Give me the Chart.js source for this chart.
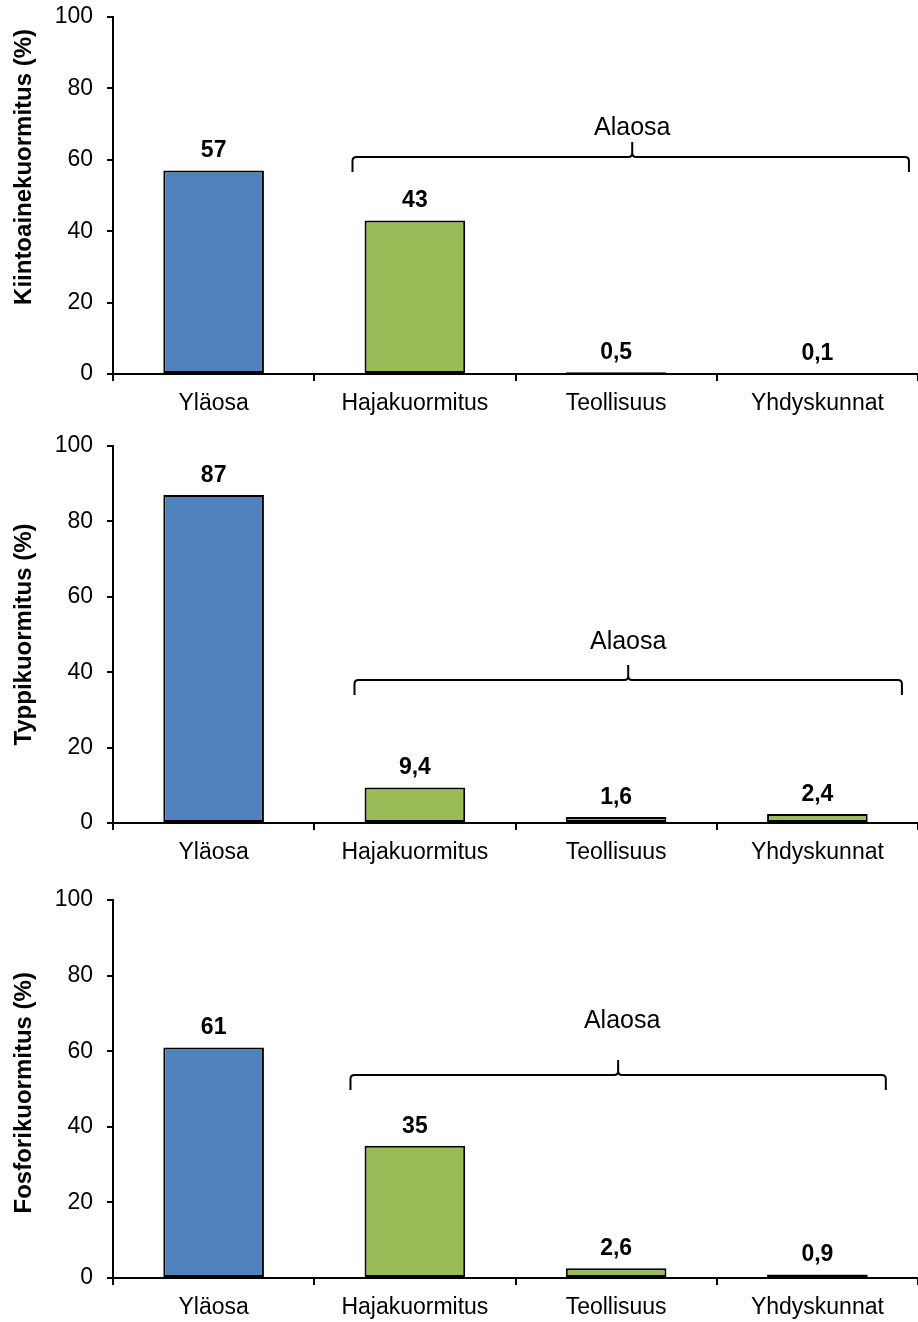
<!DOCTYPE html>
<html lang="fi">
<head>
<meta charset="utf-8">
<title>Kuormitus</title>
<script src="https://cdn.jsdelivr.net/npm/chart.js@4/dist/chart.umd.min.js"></script>
<style>
  html, body { margin: 0; padding: 0; background: #fff; }
  #wrap { position: relative; width: 918px; height: 1322px; }
  canvas { position: absolute; left: 0; }
</style>
</head>
<body>
<div id="wrap">
  <canvas id="c1" width="918" height="430" style="top:0px"></canvas>
  <canvas id="c2" width="918" height="450" style="top:430px"></canvas>
  <canvas id="c3" width="918" height="442" style="top:880px"></canvas>
</div>
<script>
// Categories and percentage shares for each load type
const categories = ['Yläosa', 'Hajakuormitus', 'Teollisuus', 'Yhdyskunnat'];
const kiintoaine = [57, 43, 0.5, 0.1];
const typpi = [87, 9.4, 1.6, 2.4];
const fosfori = [61, 35, 2.6, 0.9];
const yTickValues = [0, 20, 40, 60, 80, 100];
const barColors = ['#4F81BD', '#9BBB59', '#9BBB59', '#9BBB59'];

const FONT = '"Liberation Sans", Arial, Helvetica, sans-serif';
const fmt = v => String(v).replace('.', ',');

// Value labels above each bar
const valueLabels = {
  id: 'valueLabels',
  afterDatasetsDraw(chart) {
    const ctx = chart.ctx;
    const meta = chart.getDatasetMeta(0);
    const data = chart.data.datasets[0].data;
    ctx.save();
    ctx.font = 'bold 23px ' + FONT;
    ctx.fillStyle = '#000';
    ctx.textAlign = 'center';
    ctx.textBaseline = 'bottom';
    meta.data.forEach((bar, i) => {
      ctx.fillText(fmt(data[i]), bar.x, bar.y - 8);
    });
    ctx.restore();
  }
};

// Curly brace grouping the lower-basin categories
const bracePlugin = {
  id: 'brace',
  afterDraw(chart, args, opts) {
    if (!opts || opts.from === undefined) return;
    const x = chart.scales.x, y = chart.scales.y;
    const catW = x.getPixelForValue(1) - x.getPixelForValue(0);
    const px = v => x.getPixelForValue(0) + v * catW;
    const x0 = px(opts.from), x1 = px(opts.to), xm = px(opts.tip);
    const yl = y.getPixelForValue(opts.y);
    const drop = 15, r = 4;
    const ctx = chart.ctx;
    ctx.save();
    ctx.strokeStyle = '#000';
    ctx.lineWidth = 2;
    ctx.beginPath();
    ctx.moveTo(x0, yl + drop);
    ctx.lineTo(x0, yl + r);
    ctx.quadraticCurveTo(x0, yl, x0 + r, yl);
    ctx.lineTo(xm - r, yl);
    ctx.quadraticCurveTo(xm, yl, xm, yl - r);
    ctx.lineTo(xm, yl - drop);
    ctx.moveTo(xm, yl - r);
    ctx.quadraticCurveTo(xm, yl, xm + r, yl);
    ctx.lineTo(x1 - r, yl);
    ctx.quadraticCurveTo(x1, yl, x1, yl + r);
    ctx.lineTo(x1, yl + drop);
    ctx.stroke();
    ctx.font = '25px ' + FONT;
    ctx.fillStyle = '#000';
    ctx.textAlign = 'center';
    ctx.textBaseline = 'middle';
    ctx.fillText(opts.label, px(opts.labelX), y.getPixelForValue(opts.labelY));
    ctx.restore();
  }
};

// Rotated y-axis title, centred on a given axis value
const yTitlePlugin = {
  id: 'yTitle',
  afterDraw(chart, args, opts) {
    if (!opts || !opts.text) return;
    const ctx = chart.ctx;
    const yc = chart.scales.y.getPixelForValue(opts.center);
    ctx.save();
    ctx.translate(24, yc);
    ctx.rotate(-Math.PI / 2);
    ctx.font = 'bold 24px ' + FONT;
    ctx.fillStyle = '#000';
    ctx.textAlign = 'center';
    ctx.textBaseline = 'middle';
    ctx.fillText(opts.text, 0, 0);
    ctx.restore();
  }
};

function makeChart(id, values, title, titleCenter, pad, xHeight, brace) {
  return new Chart(document.getElementById(id), {
    type: 'bar',
    data: {
      labels: categories,
      datasets: [{
        data: values,
        backgroundColor: barColors,
        borderColor: '#000',
        borderWidth: 2,
        borderSkipped: false,
        categoryPercentage: 1,
        barPercentage: 0.5
      }]
    },
    options: {
      responsive: false,
      animation: false,
      layout: { padding: { top: pad, right: 0, bottom: 0, left: 0 } },
      plugins: {
        legend: { display: false },
        tooltip: { enabled: false },
        brace: brace,
        yTitle: { text: title, center: titleCenter }
      },
      scales: {
        x: {
          afterFit: s => { s.height = xHeight; s.paddingLeft = 0; s.paddingRight = 0; },
          grid: { drawOnChartArea: false, drawTicks: true, tickLength: 7, color: '#000', lineWidth: 2, offset: true },
          border: { display: true, color: '#000', width: 2 },
          ticks: { color: '#000', font: { family: FONT, size: 23 }, padding: 9, maxRotation: 0 }
        },
        y: {
          min: 0, max: 100,
          afterFit: s => { s.width = 113; s.paddingTop = 0; s.paddingBottom = 0; },
          afterBuildTicks: s => { s.ticks = yTickValues.map(v => ({ value: v })); },
          grid: { drawOnChartArea: false, drawTicks: true, tickLength: 6, color: '#000', lineWidth: 2 },
          border: { display: true, color: '#000', width: 2 },
          ticks: { color: '#000', font: { family: FONT, size: 23 }, padding: 14 }
        }
      }
    },
    plugins: [valueLabels, bracePlugin, yTitlePlugin]
  });
}

makeChart('c1', kiintoaine, 'Kiintoainekuormitus (%)', 58, 17, 56,
  { from: 0.69, to: 3.455, tip: 2.08, y: 60.8, label: 'Alaosa', labelX: 2.08, labelY: 69 });
makeChart('c2', typpi, 'Typpikuormitus (%)', 50, 16, 57,
  { from: 0.70, to: 3.42, tip: 2.06, y: 37.9, label: 'Alaosa', labelX: 2.06, labelY: 48 });
makeChart('c3', fosfori, 'Fosforikuormitus (%)', 49, 20, 44,
  { from: 0.68, to: 3.34, tip: 2.01, y: 53.7, label: 'Alaosa', labelX: 2.03, labelY: 68 });
</script>
</body>
</html>
